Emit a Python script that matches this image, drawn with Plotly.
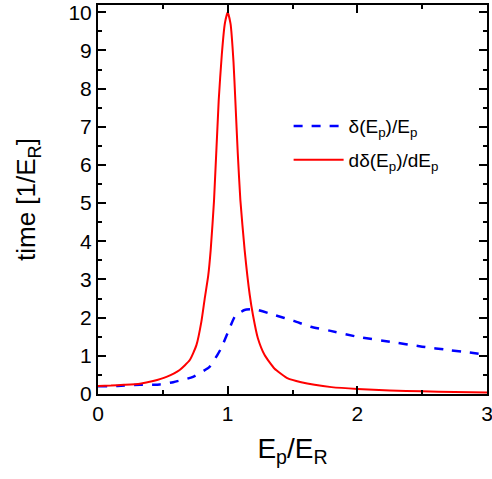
import plotly.graph_objects as go

# Red curve: d delta(Ep)/dEp
red_x = [0, 0.1, 0.2, 0.323, 0.425, 0.528, 0.63, 0.708, 0.759, 0.797, 0.823, 0.85, 0.869, 0.895,
         0.931, 0.955, 0.978, 1.0, 1.022, 1.045, 1.059, 1.078, 1.098, 1.131, 1.17, 1.195, 1.233,
         1.285, 1.36, 1.464, 1.567, 1.67, 1.8, 2.0, 2.25, 2.5, 2.75, 3.0]
red_y = [0.21, 0.22, 0.24, 0.27, 0.34, 0.45, 0.63, 0.89, 1.28, 1.89, 2.5, 3.1, 3.77, 5.08,
         7.7, 8.9, 9.7, 10.0, 9.7, 8.7, 7.7, 6.3, 5.08, 3.77, 2.6, 2.07, 1.46,
         1.02, 0.67, 0.41, 0.31, 0.24, 0.18, 0.13, 0.09, 0.07, 0.05, 0.04]

# Blue dashed curve: delta(Ep)/Ep
blue_x = [0, 0.15, 0.323, 0.477, 0.58, 0.733, 0.86, 0.92, 0.95, 1.0, 1.054, 1.09, 1.13, 1.21,
          1.36, 1.515, 1.64, 1.785, 2.0, 2.25, 2.5, 2.71, 3.0]
blue_y = [0.2, 0.21, 0.24, 0.25, 0.31, 0.45, 0.71, 1.02, 1.2, 1.6, 2.02, 2.12, 2.2, 2.22,
          2.07, 1.91, 1.76, 1.66, 1.5, 1.37, 1.24, 1.15, 1.03]

# Axis ranges and ticks
x_range = [0, 3]
y_range = [0, 10.19]
x_major = [0, 1, 2, 3]
y_major = list(range(0, 11))

FONT = "Arial, Liberation Sans, sans-serif"

fig = go.Figure()
fig.add_trace(go.Scatter(x=blue_x, y=blue_y, mode="lines", name="δ(E<sub>p</sub>)/E<sub>p</sub>",
                         legendgroup="a",
                         line=dict(color="#0000ff", width=2.5, dash="dash", shape="spline", smoothing=0.5)))
fig.add_trace(go.Scatter(x=red_x, y=red_y, mode="lines", name="dδ(E<sub>p</sub>)/dE<sub>p</sub>",
                         legendgroup="b",
                         line=dict(color="#ff0000", width=2, shape="spline", smoothing=0.5)))

axis_common = dict(
    showline=True, linecolor="black", linewidth=2, mirror="allticks",
    ticks="inside", ticklen=8, tickwidth=2, tickcolor="black",
    showgrid=False, zeroline=False, ticklabeloverflow="allow",
    tickfont=dict(family=FONT, size=21, color="black"),
)
minor = dict(dtick=0.5, ticks="inside", ticklen=4, tickwidth=2, tickcolor="black", showgrid=False)

fig.update_layout(
    width=492, height=479,
    margin=dict(l=98, r=5, t=5, b=85),
    paper_bgcolor="white", plot_bgcolor="white",
    font=dict(family=FONT, color="black"),
    xaxis=dict(range=x_range, tickvals=x_major, minor=minor, automargin="bottom",
               title=dict(text="E<sub>p</sub>/E<sub>R</sub>", font=dict(family=FONT, size=28), standoff=14),
               **axis_common),
    yaxis=dict(range=y_range, tickvals=y_major, minor=minor, automargin="left",
               title=dict(text="time [1/E<sub>R</sub>]", font=dict(family=FONT, size=26), standoff=25),
               **axis_common),
    legend=dict(x=0.49, y=0.645, xanchor="left", yanchor="middle",
                bgcolor="rgba(0,0,0,0)", font=dict(family=FONT, size=19),
                tracegroupgap=6, itemwidth=50),
    showlegend=True,
)

fig.write_html("out.html")
